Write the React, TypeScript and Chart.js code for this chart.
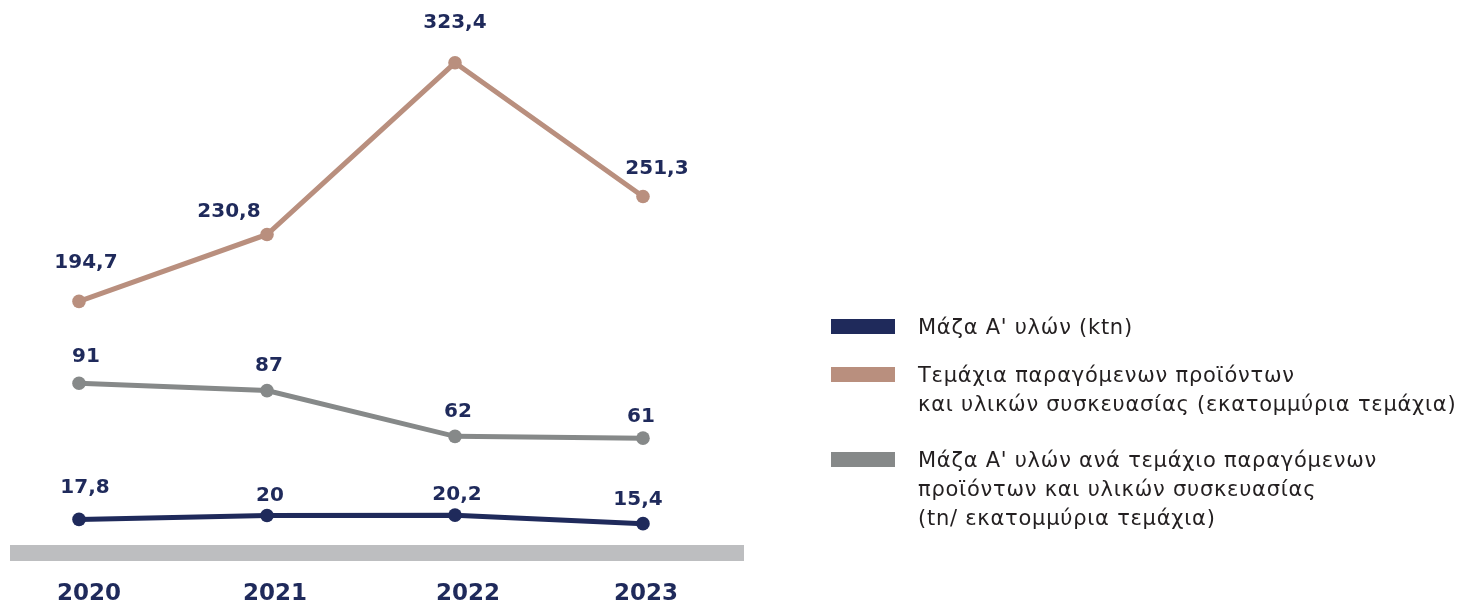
import React, { useEffect, useRef } from 'react';
import { Chart, registerables } from 'chart.js';

Chart.register(...registerables);

const years = ['2020', '2021', '2022', '2023'];
const massValues = [17.8, 20, 20.2, 15.4];
const piecesValues = [194.7, 230.8, 323.4, 251.3];
const massPerPieceValues = [91, 87, 62, 61];

const legendMass = ["Μάζα Α' υλών (ktn)"];
const legendPieces = ['Τεμάχια παραγόμενων προϊόντων', 'και υλικών συσκευασίας (εκατομμύρια τεμάχια)'];
const legendPerPiece = [
  "Μάζα Α' υλών ανά τεμάχιο παραγόμενων",
  'προϊόντων και υλικών συσκευασίας',
  '(tn/ εκατομμύρια τεμάχια)',
];

const NAVY = '#1f2a5b';
const TAN = '#b98f7e';
const GRAY = '#868989';
const BAND = '#bdbec0';
const TEXT = '#231f20';

// label placement (px) relative to each point
const labelOffsets = {
  pieces: [[7, -39], [-38, -23], [0, -40], [14, -28]],
  perPiece: [[7, -26], [2, -25], [3, -25], [-2, -21]],
  mass: [[6, -32], [3, -20], [2, -20], [-5, -24]],
};
// small horizontal nudges of the year labels (in category units)
const yearLabelShift = [0.053, 0.043, 0.069, 0.016];

const fmt = (v: number) => String(v).replace('.', ',');

const valueLabelPlugin = {
  id: 'valueLabels',
  afterDatasetsDraw(chart: any) {
    const ctx = chart.ctx;
    ctx.save();
    ctx.font = 'bold 20px "DejaVu Sans"';
    ctx.fillStyle = NAVY;
    ctx.textAlign = 'center';
    ctx.textBaseline = 'middle';
    chart.data.datasets.forEach((ds: any, di: number) => {
      const meta = chart.getDatasetMeta(di);
      meta.data.forEach((pt: any, i: number) => {
        const off = ds.labelOffsets[i];
        ctx.fillText(fmt(ds.data[i].y), pt.x + off[0], pt.y + off[1]);
      });
    });
    ctx.restore();
  },
};

const legendPlugin = {
  id: 'customLegend',
  afterDraw(chart: any) {
    const ctx = chart.ctx;
    const left = chart.chartArea.right;
    const entries = [
      { color: NAVY, lines: legendMass, top: 327 },
      { color: TAN, lines: legendPieces, top: 375 },
      { color: GRAY, lines: legendPerPiece, top: 460 },
    ];
    ctx.save();
    ctx.font = '21px "DejaVu Sans"';
    (ctx as any).letterSpacing = '0.75px';
    ctx.textAlign = 'left';
    ctx.textBaseline = 'middle';
    entries.forEach((e) => {
      ctx.fillStyle = e.color;
      ctx.fillRect(left + 88, e.top - 8, 64, 15);
      ctx.fillStyle = TEXT;
      e.lines.forEach((line, li) => {
        ctx.fillText(line, left + 175, e.top + 2 + li * 29);
      });
    });
    ctx.restore();
  },
};

const toPoints = (vals: number[]) => vals.map((v, i) => ({ x: i, y: v }));

export default function App() {
  const ref = useRef<HTMLCanvasElement>(null);
  useEffect(() => {
    document.body.style.margin = '0';
    if (!ref.current) return;
    const mk = (label: string, vals: number[], color: string, axis: string, offsets: number[][]) => ({
      label,
      data: toPoints(vals),
      yAxisID: axis,
      borderColor: color,
      backgroundColor: color,
      borderWidth: 5,
      pointRadius: 6.8,
      pointBorderWidth: 0,
      pointBackgroundColor: color,
      pointHoverRadius: 6.8,
      tension: 0,
      clip: false,
      labelOffsets: offsets,
    });
    const chart = new Chart(ref.current, {
      type: 'line',
      data: {
        datasets: [
          mk(legendPieces.join(' '), piecesValues, TAN, 'yPieces', labelOffsets.pieces),
          mk(legendPerPiece.join(' '), massPerPieceValues, GRAY, 'yPerPiece', labelOffsets.perPiece),
          mk(legendMass[0], massValues, NAVY, 'yMass', labelOffsets.mass),
        ] as any,
      },
      options: {
        animation: false,
        responsive: false,
        maintainAspectRatio: false,
        layout: { padding: { left: 18, right: 720, top: 0, bottom: 0 } },
        plugins: { legend: { display: false }, tooltip: { enabled: false } },
        events: [],
        scales: {
          x: {
            type: 'linear',
            min: -0.3245,
            max: 3.532,
            afterBuildTicks: (s: any) => {
              s.ticks = years.map((_, i) => ({ value: i + yearLabelShift[i] }));
            },
            afterFit: (s: any) => {
              s.height = 50;
            },
            ticks: {
              callback: (v: any) => years[Math.round(v)] ?? '',
              font: { family: 'DejaVu Sans', weight: 'bold', size: 23, lineHeight: 1 },
              color: NAVY,
              padding: 30,
              autoSkip: false,
              maxRotation: 0,
            },
            grid: { display: false, drawTicks: false },
            border: { display: true, color: BAND, width: 16 },
          },
          yPieces: { display: false, min: 59.0, max: 353.6 },
          yPerPiece: { display: false, min: -1.74, max: 296.7 },
          yMass: { display: false, min: -1.1, max: 306.1 },
        },
      } as any,
      plugins: [valueLabelPlugin, legendPlugin],
    });
    return () => chart.destroy();
  }, []);
  return (
    <div style={{ width: 1463, height: 603 }}>
      <canvas ref={ref} width={1463} height={603} style={{ display: 'block' }} />
    </div>
  );
}
